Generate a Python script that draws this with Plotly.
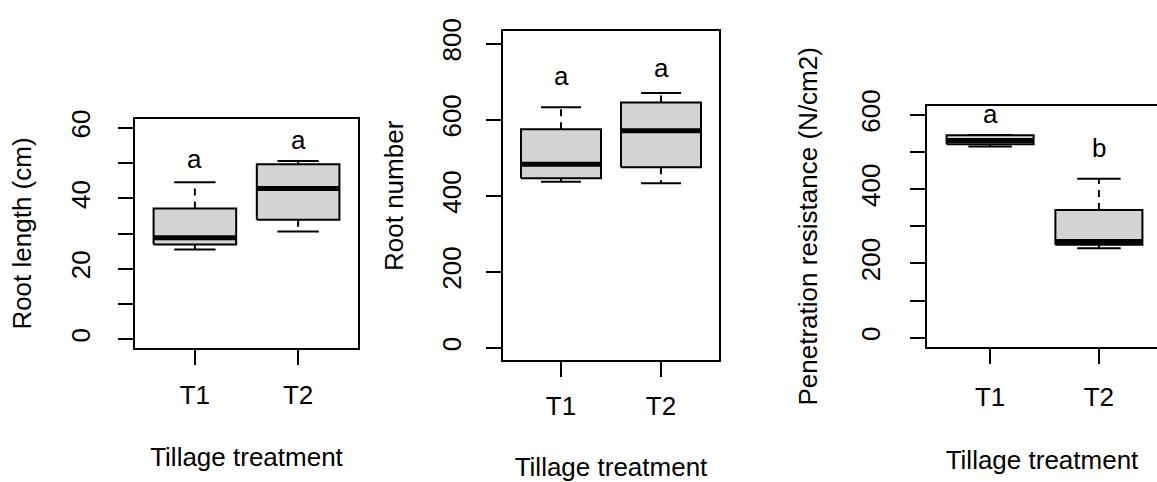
import plotly.graph_objects as go

W, H = 1157, 482

# ---------------- data ----------------
groups = ["T1", "T2"]

root_length_lower = [25.5, 30.6]
root_length_q1 = [26.9, 33.9]
root_length_median = [28.8, 42.8]
root_length_q3 = [37.1, 49.7]
root_length_upper = [44.6, 50.6]
root_length_letters = ["a", "a"]
root_length_letter_y = [49.0, 54.2]

root_number_lower = [437, 433]
root_number_q1 = [446, 475]
root_number_median = [483, 571]
root_number_q3 = [575, 645]
root_number_upper = [633, 670]
root_number_letters = ["a", "a"]
root_number_letter_y = [695, 716]

penetration_lower = [515, 241]
penetration_q1 = [521, 250]
penetration_median = [531, 259]
penetration_q3 = [545, 344]
penetration_upper = [546, 428]
penetration_letters = ["a", "b"]
penetration_letter_y = [580, 489]

y_title_1 = "Root length (cm)"
y_title_2 = "Root number"
y_title_3 = "Penetration resistance (N/cm2)"
x_title = "Tillage treatment"

yticks_1 = [0, 10, 20, 30, 40, 50, 60]
ytext_1 = ["0", "", "20", "", "40", "", "60"]
yticks_2 = [0, 200, 400, 600, 800]
ytext_2 = ["0", "200", "400", "600", "800"]
yticks_3 = [0, 100, 200, 300, 400, 500, 600]
ytext_3 = ["0", "", "200", "", "400", "", "600"]

# ---------------- styling ----------------
FONT = "Liberation Sans, Arial, sans-serif"
FS = 26
BOXFILL = "#D3D3D3"
LW = 2
MEDLW = 5
HALF = 0.4
CAP = 0.2

fig = go.Figure()

panels = [
    dict(lo=root_length_lower, q1=root_length_q1, med=root_length_median, q3=root_length_q3,
         hi=root_length_upper, letters=root_length_letters, ly=root_length_letter_y,
         px=(135, 358), py=(107, 343), xr=[0.42, 2.58], yr=[-2.4, 62.4],
         tv=yticks_1, tt=ytext_1, ytitle=y_title_1, mirror_y=True,
         xs=8, xts=39, ys=18, yts=26),
    dict(lo=root_number_lower, q1=root_number_q1, med=root_number_median, q3=root_number_q3,
         hi=root_number_upper, letters=root_number_letters, ly=root_number_letter_y,
         px=(503, 719), py=(16, 356), xr=[0.42, 2.58], yr=[-32, 832],
         tv=yticks_2, tt=ytext_2, ytitle=y_title_2, mirror_y=True,
         xs=7, xts=38, ys=15, yts=25),
    dict(lo=penetration_lower, q1=penetration_q1, med=penetration_median, q3=penetration_q3,
         hi=penetration_upper, letters=penetration_letters, ly=penetration_letter_y,
         px=(927, 1157), py=(93, 342), xr=[0.42, 0.42 + 2.16 * 230 / 235], yr=[-24, 624],
         tv=yticks_3, tt=ytext_3, ytitle=y_title_3, mirror_y=False,
         xs=11, xts=40, ys=20, yts=30),
]

annotations = []
for i, p in enumerate(panels, start=1):
    xa = "x" if i == 1 else f"x{i}"
    ya = "y" if i == 1 else f"y{i}"
    for j, g in enumerate(groups):
        c = j + 1
        # whiskers (dashed)
        for a, b in ((p["q3"][j], p["hi"][j]), (p["q1"][j], p["lo"][j])):
            fig.add_trace(go.Scatter(x=[c, c], y=[a, b], mode="lines", xaxis=xa, yaxis=ya,
                                     line=dict(color="black", width=LW, dash="7px,6px"),
                                     showlegend=False, hoverinfo="skip"))
        # whisker caps
        for v in (p["hi"][j], p["lo"][j]):
            fig.add_trace(go.Scatter(x=[c - CAP, c + CAP], y=[v, v], mode="lines", xaxis=xa, yaxis=ya,
                                     line=dict(color="black", width=LW),
                                     showlegend=False, hoverinfo="skip"))
        # box
        fig.add_trace(go.Scatter(x=[c - HALF, c + HALF, c + HALF, c - HALF, c - HALF],
                                 y=[p["q1"][j], p["q1"][j], p["q3"][j], p["q3"][j], p["q1"][j]],
                                 mode="lines", fill="toself", fillcolor=BOXFILL, xaxis=xa, yaxis=ya,
                                 line=dict(color="black", width=LW),
                                 showlegend=False, hoverinfo="skip"))
        # median
        fig.add_trace(go.Scatter(x=[c - HALF, c + HALF], y=[p["med"][j], p["med"][j]], mode="lines",
                                 xaxis=xa, yaxis=ya, line=dict(color="black", width=MEDLW),
                                 showlegend=False, hoverinfo="skip"))
        annotations.append(dict(x=c, y=p["ly"][j], xref=xa, yref=ya, text=p["letters"][j],
                                showarrow=False, font=dict(size=FS, color="black", family=FONT),
                                xanchor="center", yanchor="middle", yshift=8))

    x0, x1 = p["px"]
    y0, y1 = p["py"]
    xdom = [x0 / W, min(x1 / W, 1.0)]
    ydom = [1 - y1 / H, 1 - y0 / H]
    xkey = "xaxis" if i == 1 else f"xaxis{i}"
    ykey = "yaxis" if i == 1 else f"yaxis{i}"
    fig.update_layout(**{
        xkey: dict(domain=xdom, range=p["xr"], anchor=ya, tickmode="array", tickvals=[1, 2],
                   ticktext=groups, ticks="outside", ticklen=15, tickwidth=LW, tickcolor="black",
                   showline=True, linewidth=LW, linecolor="black", mirror=True,
                   showgrid=False, zeroline=False, ticklabelstandoff=p["xs"],
                   tickfont=dict(size=FS, color="black", family=FONT),
                   title=dict(text=x_title, font=dict(size=FS, color="black", family=FONT),
                              standoff=p["xts"])),
        ykey: dict(domain=ydom, range=p["yr"], anchor=xa, tickmode="array", tickvals=p["tv"],
                   ticktext=p["tt"], ticks="outside", ticklen=15, tickwidth=LW, tickcolor="black",
                   showline=True, linewidth=LW, linecolor="black", mirror=p["mirror_y"],
                   showgrid=False, zeroline=False, tickangle=-90, ticklabelstandoff=p["ys"],
                   tickfont=dict(size=FS, color="black", family=FONT),
                   title=dict(text=p["ytitle"], font=dict(size=FS, color="black", family=FONT),
                              standoff=p["yts"])),
    })

fig.update_layout(width=W, height=H, margin=dict(l=0, r=0, t=0, b=0),
                  plot_bgcolor="white", paper_bgcolor="white",
                  annotations=annotations, showlegend=False)

fig.write_html("out.html", config={"displayModeBar": False},
               post_script="document.body.style.margin='0';document.body.style.overflow='hidden';")
